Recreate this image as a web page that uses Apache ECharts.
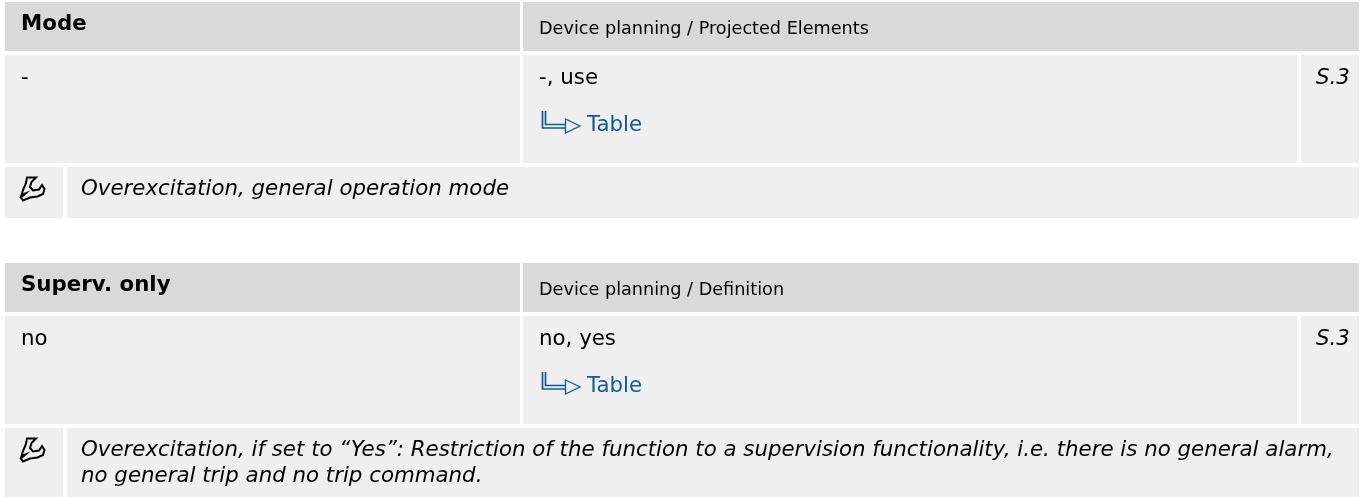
<!DOCTYPE html>
<html><head><meta charset="utf-8">
<style>html,body{margin:0;padding:0;background:#fff}#c{width:1365px;height:497px}</style>
<script src="https://cdn.jsdelivr.net/npm/echarts@6/dist/echarts.min.js"></script>
</head><body><div id="c"></div>
<script>
const titles = ['Mode', 'Superv. only'];
const paths = ['Device planning / Projected Elements', 'Device planning / Definition'];
const defaults = ['-', 'no'];
const options = ['-, use', 'no, yes'];
const linkLabels = ['Table', 'Table'];
const scopes = ['S.3', 'S.3'];
const descriptions = [
  ['Overexcitation, general operation mode'],
  ['Overexcitation, if set to \u201cYes\u201d: Restriction of the function to a supervision functionality, i.e. there is no general alarm,', 'no general trip and no trip command.']
];
const tops = [2, 263];
const bottoms = [218, 497];

const FONT = '"DejaVu Sans"';
const HEAD = '#d9d9d9', CELL = '#efefef', INK = '#000000', LINK = '#0f5a9c';
const wrenchOutline = [[7,1.5],[16,1.5],[11.5,6],[10,11],[13,14.5],[19,13.5],[22,9],[24.5,13],[23,18],[17.5,20.5],[10,21.5],[3,24.5],[0.8,21.5],[5.5,17.5],[1.5,19],[3,14],[6,7]];
const els = [];
const rect = (x0, y0, x1, y1, fill) => els.push({type:'rect', shape:{x:x0,y:y0,width:x1-x0,height:y1-y0}, style:{fill}, silent:true});
const text = (x, y, s, size, o={}) => els.push({type:'text', x, y, silent:true, style:{text:s, fill:o.fill||INK, font:`${o.italic?'italic ':''}${o.bold?'bold ':''}${size}px ${FONT}`, verticalAlign:'middle', align:'left'}});

titles.forEach((t,i)=>{
  const y = tops[i];
  rect(5,y,520,y+49,HEAD); rect(523,y,1359,y+49,HEAD);
  rect(5,y+53,520,y+161,CELL); rect(523,y+53,1297,y+161,CELL); rect(1301,y+53,1359,y+161,CELL);
  rect(5,y+165,63,bottoms[i],CELL); rect(67,y+165,1359,bottoms[i],CELL);
  text(21,y+22.5,t,21.33,{bold:true});
  text(539,y+27,paths[i],17.65);
  text(21,y+76,defaults[i],21.33);
  text(539,y+76,options[i],21.33);
  text(587,y+123.5,linkLabels[i],21.33,{fill:LINK});
  text(1316,y+76,scopes[i],21.33,{italic:true});
  descriptions[i].forEach((d,k)=>text(81,y+187+k*26,d,21.33,{italic:true}));
  // link arrow icon
  els.push({type:'polyline',silent:true,shape:{points:[[542.5,y+109],[542.5,y+126],[566,y+126]]},style:{stroke:LINK,lineWidth:1.7,fill:null}});
  els.push({type:'polyline',silent:true,shape:{points:[[545.5,y+109],[545.5,y+122.5],[566,y+122.5]]},style:{stroke:LINK,lineWidth:1.7,fill:null}});
  els.push({type:'polygon',silent:true,shape:{points:[[565.5,y+117],[580,y+124],[565.5,y+131]]},style:{stroke:LINK,lineWidth:1.3,fill:CELL}});
  // wrench icon
  els.push({type:'polygon',silent:true,x:20,y:y+174,shape:{points:wrenchOutline},style:{fill:'none',stroke:INK,lineWidth:2,lineJoin:'miter'}});
});
const chart = echarts.init(document.getElementById('c'),null,{renderer:'canvas'});
chart.setOption({animation:false,backgroundColor:'#fff',graphic:{elements:els}});
</script></body></html>
